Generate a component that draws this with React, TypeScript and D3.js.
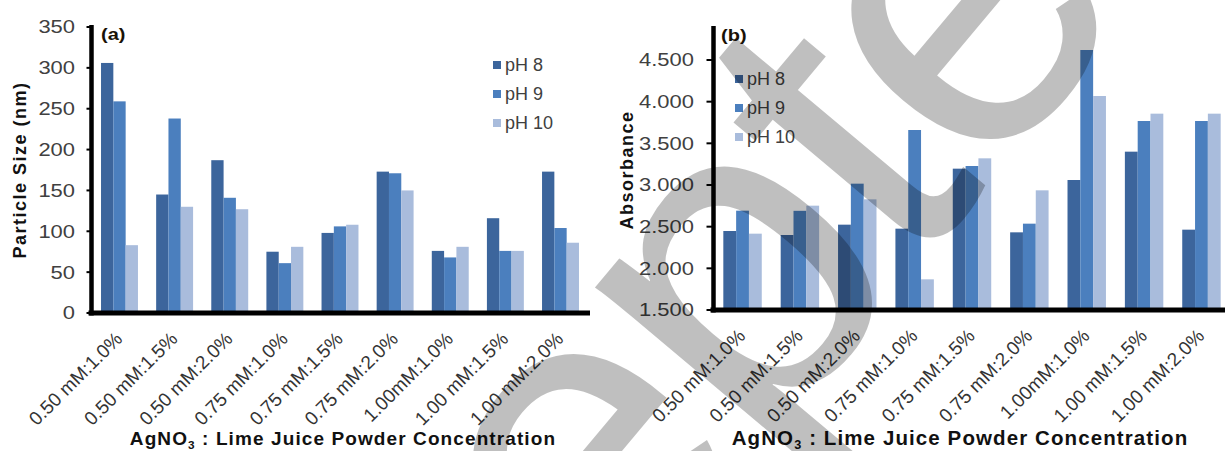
import React, { useEffect, useRef } from "react";
import * as d3 from "d3";

const categories = [
  "0.50 mM:1.0%", "0.50 mM:1.5%", "0.50 mM:2.0%",
  "0.75 mM:1.0%", "0.75 mM:1.5%", "0.75 mM:2.0%",
  "1.00mM:1.0%", "1.00 mM:1.5%", "1.00 mM:2.0%",
];
const seriesNames = ["pH 8", "pH 9", "pH 10"];
const seriesColors = ["#3c659c", "#4b7fbe", "#a9bcdc"];

// panel (a) particle size, nm
const sizePH8 = [306, 145, 187, 75, 98, 173, 76, 116, 173];
const sizePH9 = [259, 238, 141, 61, 106, 171, 68, 76, 104];
const sizePH10 = [83, 130, 127, 81, 108, 150, 81, 76, 86];
const sizeTicks = [0, 50, 100, 150, 200, 250, 300, 350];

// panel (b) absorbance
const absPH8 = [2.448, 2.4, 2.524, 2.476, 3.196, 2.432, 3.06, 3.4, 2.464];
const absPH9 = [2.692, 2.69, 3.016, 3.66, 3.228, 2.536, 4.62, 3.768, 3.768];
const absPH10 = [2.416, 2.752, 2.828, 1.868, 3.32, 2.936, 4.068, 3.856, 3.856];
const absTicks = [1.5, 2.0, 2.5, 3.0, 3.5, 4.0, 4.5];

const W = 1225;
const H = 451;
const FONT = "'Liberation Sans', Arial, sans-serif";

function drawPanel(svg, o) {
  const g = svg.append("g");
  const x = d3.scaleBand().domain(categories).range(o.xRange)
    .paddingInner(0.33).paddingOuter(o.padOuter);
  const x1 = d3.scaleBand().domain(seriesNames).range([0, x.bandwidth()]);
  const y = d3.scaleLinear().domain(o.yDomain).range(o.yRange);

  const rows = categories.map((c, i) => ({
    cat: c,
    vals: o.series.map((s, k) => ({ name: seriesNames[k], v: s[i], k })),
  }));

  g.selectAll("g.grp").data(rows).enter().append("g")
    .attr("transform", d => `translate(${x(d.cat)},0)`)
    .selectAll("rect").data(d => d.vals).enter().append("rect")
    .attr("x", d => x1(d.name))
    .attr("width", x1.bandwidth())
    .attr("y", d => y(d.v))
    .attr("height", d => y(o.yDomain[0]) - y(d.v))
    .attr("fill", d => seriesColors[d.k]);

  // axes
  const axX = o.axisX;
  const y0 = y(o.yDomain[0]);
  g.append("line").attr("x1", axX).attr("x2", axX)
    .attr("y1", o.axisTop).attr("y2", y0 + 2.5)
    .attr("stroke", "#000").attr("stroke-width", 4.5);
  g.append("line").attr("x1", axX - 3).attr("x2", o.axisRight)
    .attr("y1", y0).attr("y2", y0)
    .attr("stroke", "#000").attr("stroke-width", 5);

  o.ticks.forEach(t => {
    g.append("line").attr("x1", axX - o.tickLen).attr("x2", axX)
      .attr("y1", y(t)).attr("y2", y(t))
      .attr("stroke", "#000").attr("stroke-width", 2);
    g.append("text")
      .attr("transform", `translate(${o.tickLabelX},${y(t)}) scale(1.22,1)`)
      .attr("text-anchor", "end").attr("dy", "0.36em")
      .attr("font-family", FONT).attr("font-size", 18).attr("fill", "#404040")
      .text(o.fmt(t));
  });

  // category labels
  categories.forEach(c => {
    const cx = x(c) + x.bandwidth() / 2;
    g.append("text")
      .attr("transform", `translate(${cx + 4},${y0 + 27}) rotate(-45)`)
      .attr("text-anchor", "end")
      .attr("font-family", FONT).attr("font-size", 19).attr("fill", "#333")
      .text(c);
  });

  // y title
  g.append("text")
    .attr("transform", `translate(${o.yTitleX},${o.yTitleY}) rotate(-90)`)
    .attr("text-anchor", "middle")
    .attr("font-family", FONT).attr("font-size", 18).attr("font-weight", "bold")
    .attr("letter-spacing", 1.5).attr("fill", "#111")
    .text(o.yTitle);

  // x title
  const xt = g.append("text")
    .attr("x", o.xTitleX).attr("y", 445)
    .attr("text-anchor", "middle")
    .attr("font-family", FONT).attr("font-size", o.xTitleSize).attr("font-weight", "bold")
    .attr("letter-spacing", 1.1).attr("fill", "#111");
  xt.append("tspan").text("AgNO");
  xt.append("tspan").attr("font-size", o.xTitleSize * 0.62).attr("dy", 4).text("3");
  xt.append("tspan").attr("dy", -4).text(" : Lime Juice Powder Concentration");

  // panel tag
  g.append("text")
    .attr("transform", `translate(${o.tagX},${o.tagY}) scale(1.25,1)`)
    .attr("font-family", FONT).attr("font-size", 16).attr("font-weight", "bold")
    .attr("fill", "#1a1206")
    .text(o.tag);

  // legend
  seriesNames.forEach((s, k) => {
    const ly = o.legendY + k * 29;
    g.append("rect").attr("x", o.legendX).attr("y", ly - 4)
      .attr("width", 8).attr("height", 8).attr("fill", seriesColors[k]);
    g.append("text").attr("x", o.legendX + 12).attr("y", ly).attr("dy", "0.36em")
      .attr("font-family", FONT).attr("font-size", 18).attr("fill", "#404040")
      .text(s);
  });
}

export default function App() {
  const ref = useRef(null);

  useEffect(() => {
    const svg = d3.select(ref.current);
    svg.selectAll("*").remove();
    svg.append("rect").attr("width", W).attr("height", H).attr("fill", "#fff");

    drawPanel(svg, {
      series: [sizePH8, sizePH9, sizePH10],
      xRange: [90, 590], padOuter: 0.2,
      yDomain: [0, 350], yRange: [313, 27], ticks: sizeTicks,
      fmt: d3.format("d"),
      axisX: 91.5, axisTop: 25, axisRight: 590, tickLen: 5, tickLabelX: 75,
      yTitle: "Particle Size (nm)", yTitleX: 26, yTitleY: 170,
      xTitleX: 343, xTitleSize: 19,
      tag: "(a)", tagX: 101, tagY: 40,
      legendX: 493, legendY: 65,
    });

    drawPanel(svg, {
      series: [absPH8, absPH9, absPH10],
      xRange: [713, 1231], padOuter: 0.18,
      yDomain: [1.5, 4.5], yRange: [310, 60], ticks: absTicks,
      fmt: d3.format(".3f"),
      axisX: 713.5, axisTop: 26, axisRight: W, tickLen: 7, tickLabelX: 694,
      yTitle: "Absorbance", yTitleX: 633, yTitleY: 170,
      xTitleX: 960, xTitleSize: 20.5,
      tag: "(b)", tagX: 721, tagY: 41,
      legendX: 735, legendY: 79,
    });

    // "Accepted" watermark, rotated about 50 degrees; only "epte" falls inside the picture
    svg.append("text")
      .attr("transform", "translate(12,0) rotate(-5, 850, 150) rotate(-45)")
      .attr("x", -760).attr("y", 826)
      .attr("font-family", FONT).attr("font-size", 445)
      .attr("letter-spacing", -10)
      .attr("fill", "#000").attr("fill-opacity", 0.25)
      .style("pointer-events", "none")
      .text("Accepted");
  }, []);

  return (
    <svg ref={ref} width={W} height={H}
      style={{ position: "absolute", left: 0, top: 0, display: "block" }} />
  );
}
